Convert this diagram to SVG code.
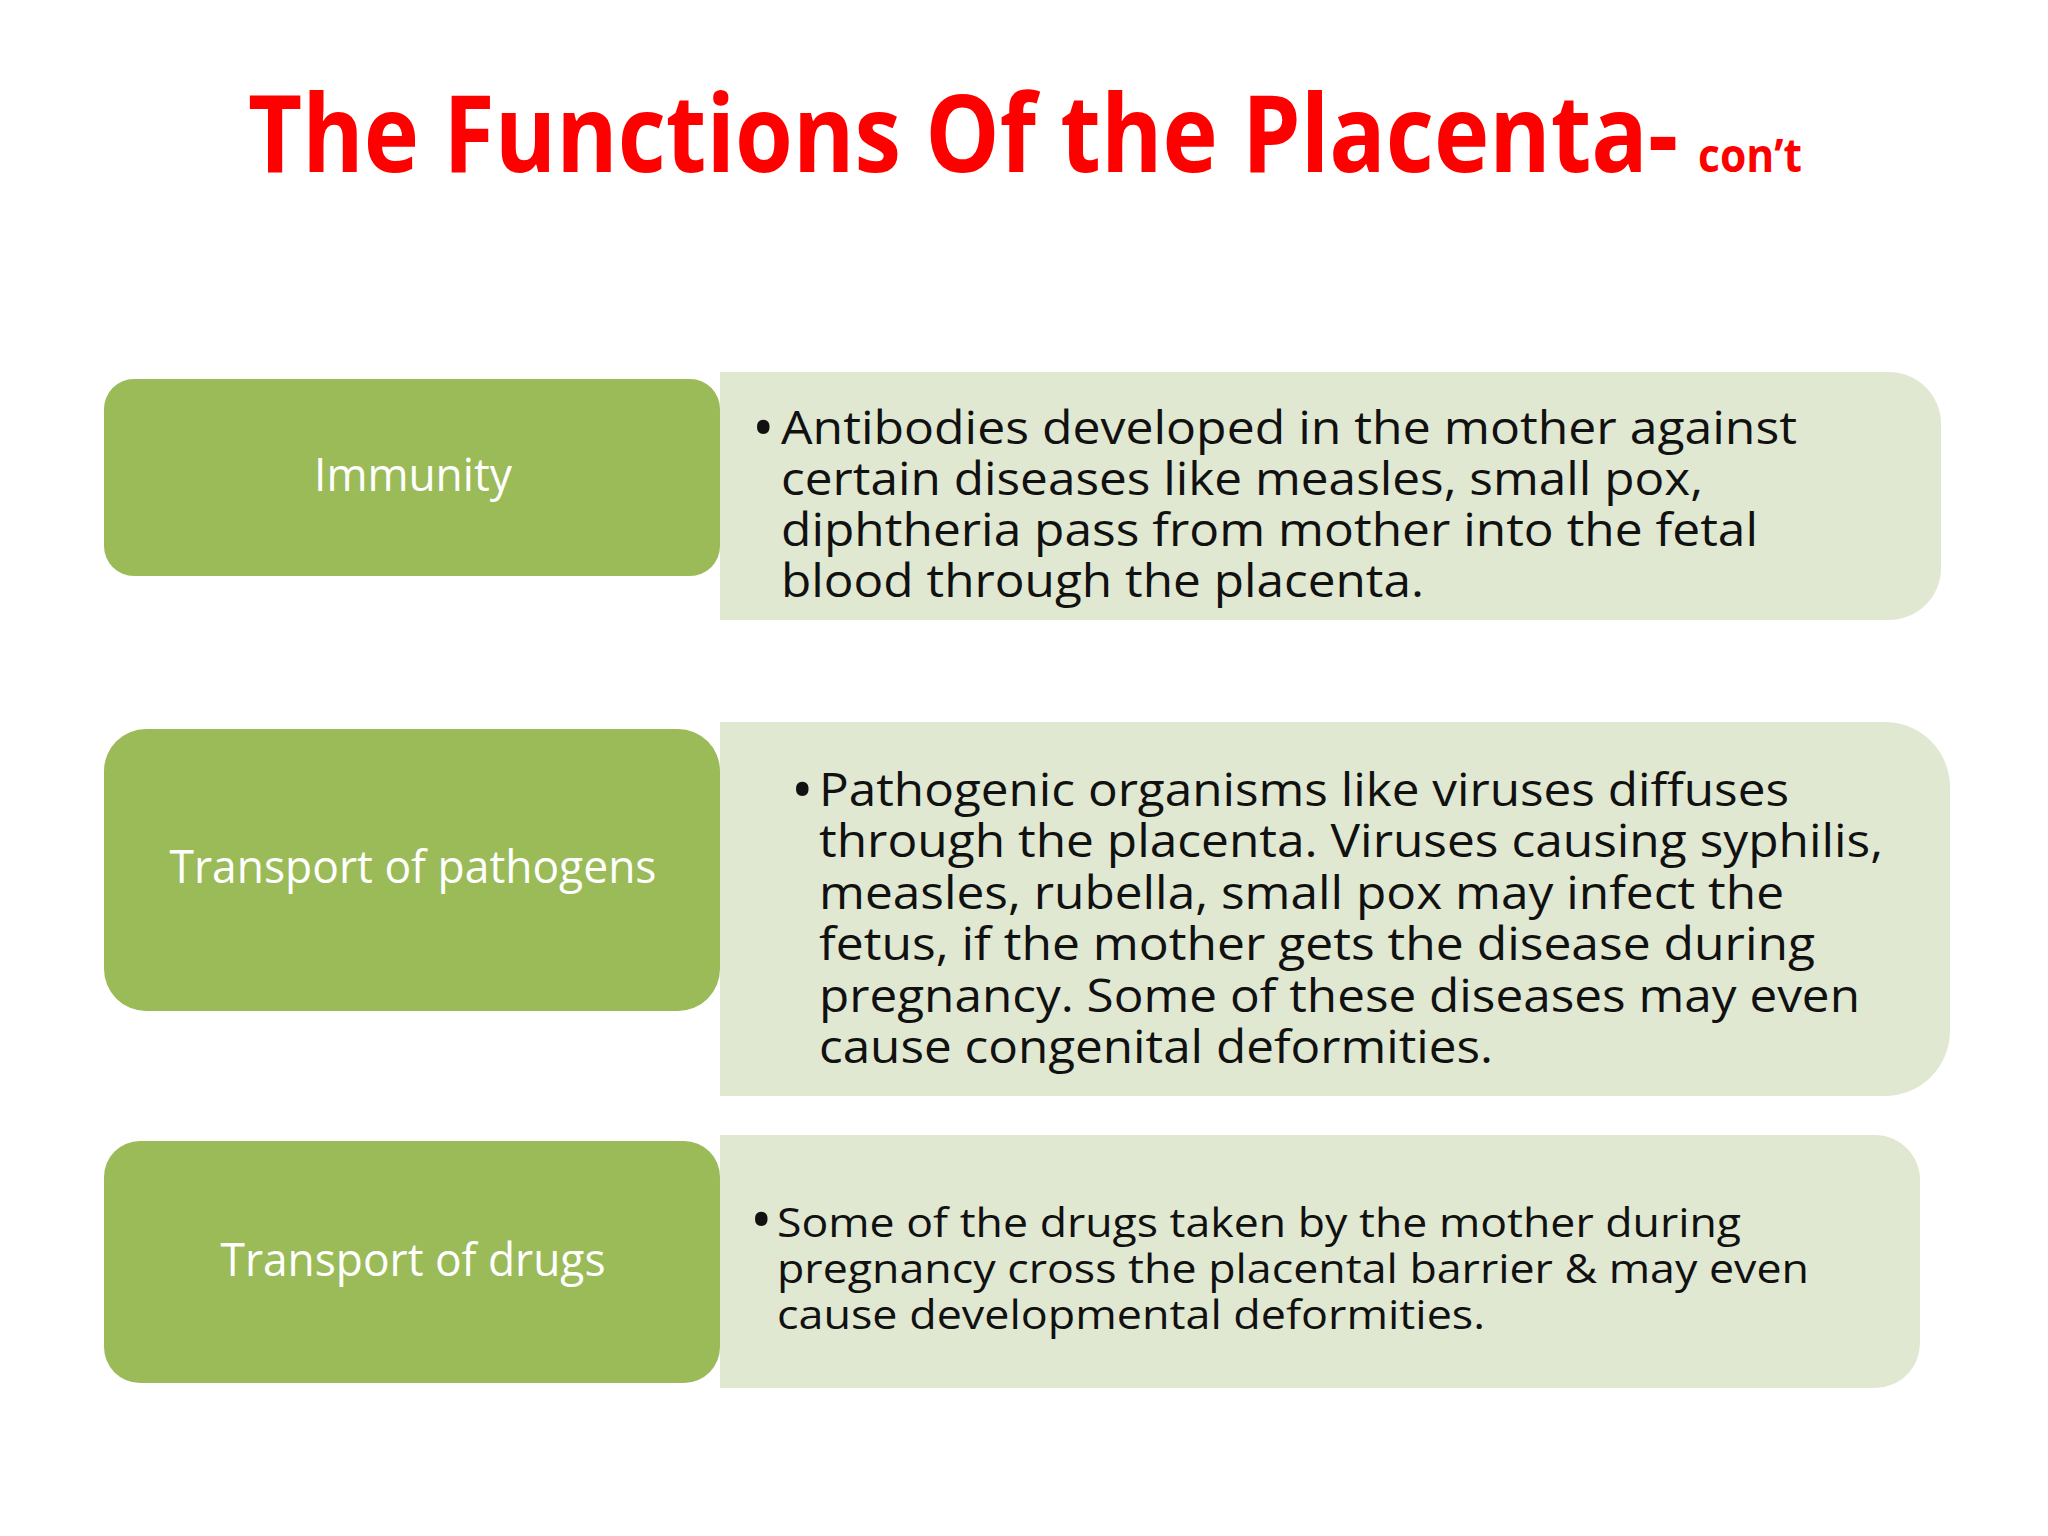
<svg xmlns="http://www.w3.org/2000/svg" width="2048" height="1536" viewBox="0 0 2048 1536">
<style>
.g{fill:#9BBB59}
.l{fill:#E0E8D2}
.lab{font-family:"Open Sans","Noto Sans",sans-serif;font-size:45px;fill:#fff;text-anchor:middle}
.b{font-family:"Open Sans","Noto Sans",sans-serif;font-size:46px;fill:#111}
.s{font-size:41px}
.bu{font-family:"Open Sans","Noto Sans",sans-serif;font-size:60px;fill:#111}
</style>
<rect width="2048" height="1536" fill="#fff"/>
<g id="title">
<text x="248" y="172" font-family="Open Sans,Noto Sans,sans-serif" font-weight="bold" font-size="108" fill="#FF0000" textLength="1430" lengthAdjust="spacingAndGlyphs">The Functions Of the Placenta-</text>
<text x="1698" y="172" font-family="Open Sans,Noto Sans,sans-serif" font-weight="bold" font-size="46" fill="#FF0000" textLength="104" lengthAdjust="spacingAndGlyphs">con’t</text>
</g>
<g id="row1">
<path class="l" d="M720 372H1889A52 52 0 0 1 1941 424V568A52 52 0 0 1 1889 620H720Z"/>
<rect class="g" x="104" y="379" width="616" height="197" rx="30"/>
<text class="lab" x="413" y="491" textLength="198" lengthAdjust="spacingAndGlyphs">Immunity</text>
<text class="bu" x="752" y="449">•</text>
<text class="b" x="781" y="444" textLength="1016" lengthAdjust="spacingAndGlyphs">Antibodies developed in the mother against</text>
<text class="b" x="781" y="495" textLength="922" lengthAdjust="spacingAndGlyphs">certain diseases like measles, small pox,</text>
<text class="b" x="781" y="546" textLength="977" lengthAdjust="spacingAndGlyphs">diphtheria pass from mother into the fetal</text>
<text class="b" x="781" y="597" textLength="643" lengthAdjust="spacingAndGlyphs">blood through the placenta.</text>
</g>
<g id="row2">
<path class="l" d="M720 722H1885A65 65 0 0 1 1950 787V1031A65 65 0 0 1 1885 1096H720Z"/>
<rect class="g" x="104" y="729" width="616" height="282" rx="42"/>
<text class="lab" x="413" y="883" textLength="487" lengthAdjust="spacingAndGlyphs">Transport of pathogens</text>
<text class="bu" x="791" y="811">•</text>
<text class="b" x="819" y="806" textLength="970" lengthAdjust="spacingAndGlyphs">Pathogenic organisms like viruses diffuses</text>
<text class="b" x="819" y="857" textLength="1064" lengthAdjust="spacingAndGlyphs">through the placenta. Viruses causing syphilis,</text>
<text class="b" x="819" y="909" textLength="965" lengthAdjust="spacingAndGlyphs">measles, rubella, small pox may infect the</text>
<text class="b" x="819" y="960" textLength="996" lengthAdjust="spacingAndGlyphs">fetus, if the mother gets the disease during</text>
<text class="b" x="819" y="1012" textLength="1041" lengthAdjust="spacingAndGlyphs">pregnancy. Some of these diseases may even</text>
<text class="b" x="819" y="1063" textLength="674" lengthAdjust="spacingAndGlyphs">cause congenital deformities.</text>
</g>
<g id="row3">
<path class="l" d="M720 1135H1875A45 45 0 0 1 1920 1180V1343A45 45 0 0 1 1875 1388H720Z"/>
<rect class="g" x="104" y="1141" width="616" height="242" rx="36"/>
<text class="lab" x="413" y="1276" textLength="385" lengthAdjust="spacingAndGlyphs">Transport of drugs</text>
<text class="bu" x="750" y="1241" font-size="54">•</text>
<text class="b s" x="777" y="1237" textLength="964" lengthAdjust="spacingAndGlyphs">Some of the drugs taken by the mother during</text>
<text class="b s" x="777" y="1283" textLength="1032" lengthAdjust="spacingAndGlyphs">pregnancy cross the placental barrier &amp; may even</text>
<text class="b s" x="777" y="1329" textLength="708" lengthAdjust="spacingAndGlyphs">cause developmental deformities.</text>
</g>
<g id="connectors"/>
</svg>
